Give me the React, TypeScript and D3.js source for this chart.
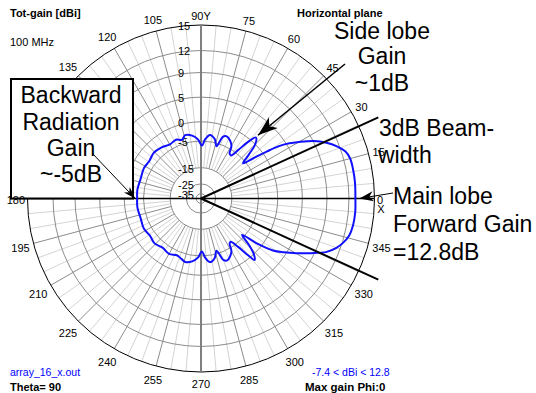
import React from 'react';
import * as d3 from 'd3';

const W = 536;
const H = 393;
const cx = 201;
const cy = 198.5;
const R = 173.5;

// ring values (dBi) shown on the vertical axis
const ringDb = [15, 12, 9, 5, 0, -5, -15, -25, -35];
const ringLabels = ['15', '12', '9', '5', '0', '-5', '-15', '-25', '-35'];

// angle tick labels (deg)
const angleTicks = [0, 15, 30, 45, 60, 75, 90, 105, 120, 135, 150, 165, 180, 195, 210, 225, 240, 255, 270, 285, 300, 315, 330, 345];

// pattern: upper half (0..180 deg) and lower half (180..360 deg)
const upperAngles = [0, 6, 11, 15, 18, 21, 24, 27, 30, 32, 34, 35.5, 37.5, 40, 42.5, 45, 48, 50.5, 52.5, 55, 57.5, 60, 64, 68, 70.5, 73.5, 77, 82, 86, 89, 93, 98, 104, 108, 113, 120, 128, 136, 144, 152, 162, 172];
const upperGain = [12.8, 12.85, 12.85, 12.8, 12.5, 11.7, 10.6, 9.1, 7.0, 5.5, 3.5, 1.0, -2.5, -5.8, -3.0, 0.0, 1.2, -1.0, -4.0, -6.5, -6.3, -4.0, -2.8, -2.3, -2.8, -5.9, -4.0, -3.1, -4.5, -6.4, -4.5, -3.3, -2.8, -3.8, -3.2, -3.6, -3.0, -2.7, -3.2, -3.0, -3.3, -3.1];
const lowerAngles = [180, 188, 198, 208, 216, 224, 232, 240, 247, 252, 256, 262, 267, 271, 274, 278, 283, 286.5, 290, 293, 296, 300, 302.5, 304.5, 307.5, 309.5, 311.1, 313.5, 316, 318.5, 321.2, 324.2, 327, 330.2, 333.5, 337, 340, 342.4, 346, 350, 355];
const lowerGain = [-3.2, -3.1, -3.3, -3.0, -3.4, -3.0, -3.6, -3.2, -3.8, -3.3, -2.8, -3.3, -4.5, -6.4, -4.5, -3.1, -4.0, -5.9, -2.8, -2.3, -2.8, -4.0, -6.3, -6.5, -4.0, -1.0, 1.1, 0.0, -2.5, -5.8, -1.2, 2.6, 4.5, 6.5, 8.5, 10.5, 11.5, 12.06, 12.6, 12.8, 12.85];

const maxGain = 12.8;
const backGain = -3.2;
const sideLobeAngle = 48;
const sideLobeGain = 1.2;
const beamHalfWidth = 24.6;

// 4nec2-like log radial scale
const K = 0.0498;
const DB_ZERO = -42.6;
const rLin = d3.scaleLinear().domain([Math.exp(K * DB_ZERO), Math.exp(K * 15)]).range([0, R]);
const rScale = (db: number) => rLin(Math.exp(K * db));

const toRad = (deg: number) => (deg * Math.PI) / 180;
const polar = (deg: number, r: number): [number, number] => [cx + r * Math.cos(toRad(deg)), cy - r * Math.sin(toRad(deg))];

type P = { a: number; g: number };
const pattern: P[] = [
  ...upperAngles.map((a, i) => ({ a, g: upperGain[i] })),
  ...lowerAngles.map((a, i) => ({ a, g: lowerGain[i] })),
];

const lineGen = d3
  .lineRadial<P>()
  .angle((d) => toRad(90 - d.a))
  .radius((d) => rScale(d.g))
  .curve(d3.curveCatmullRomClosed.alpha(0.5));

function arrowHead(x1: number, y1: number, x2: number, y2: number, len: number, half: number) {
  const dx = x2 - x1;
  const dy = y2 - y1;
  const L = Math.hypot(dx, dy);
  const ux = dx / L;
  const uy = dy / L;
  const nx = -uy;
  const ny = ux;
  const bx = x2 - ux * len;
  const by = y2 - uy * len;
  const mx = x2 - ux * len * 0.72;
  const my = y2 - uy * len * 0.72;
  return `M${x2},${y2}L${bx + nx * half},${by + ny * half}L${mx},${my}L${bx - nx * half},${by - ny * half}Z`;
}

const FONT = 'Arial, "Liberation Sans", sans-serif';

export default function App() {
  const spokes = d3.range(0, 360, 5);
  const rInner = rScale(-15);

  // arrows
  const sideTip = polar(sideLobeAngle, rScale(sideLobeGain) + 3);
  const sideStart: [number, number] = [345, 64];
  const mainTip = polar(0, rScale(maxGain) + 4);
  const mainStart: [number, number] = [393, 193];
  const backTip = polar(180, rScale(backGain) + 2);
  const backStart: [number, number] = [92, 153];

  const beamUp = polar(beamHalfWidth, 195);
  const beamDown = polar(-beamHalfWidth, 195);

  const angleLabel = (a: number) => {
    const txt = a === 90 ? '90Y' : String(a);
    const hw = txt.length * 3.05;
    const c = Math.cos(toRad(a));
    const s = Math.sin(toRad(a));
    const off = R + 2.5 + hw * Math.abs(c) + 8 * Math.abs(s);
    return { txt, x: cx + c * off, y: cy - s * off + 1.5 };
  };

  return (
    <svg width={W} height={H} style={{ position: 'absolute', left: 0, top: 0, background: '#fff' }} fontFamily={FONT}>
      <rect x={0} y={0} width={W} height={H} fill="#fff" />
      {/* spokes */}
      {spokes.map((a) => {
        if (a % 90 === 0) return null;
        const [x1, y1] = polar(a, rInner);
        const [x2, y2] = polar(a, R);
        const dark = a % 15 === 0;
        return <line key={a} x1={x1} y1={y1} x2={x2} y2={y2} stroke={dark ? '#8c8c8c' : '#d4d4d4'} strokeWidth={1} />;
      })}
      {/* rings */}
      {ringDb.map((db, i) => (
        <circle key={db} cx={cx} cy={cy} r={rScale(db)} fill="none" stroke={i === 0 ? '#000' : '#8c8c8c'} strokeWidth={1} />
      ))}
      {/* axes */}
      <line x1={cx} y1={cy - R} x2={cx} y2={cy + R} stroke="#808080" strokeWidth={2} />
      <line x1={10} y1={cy} x2={cx + R} y2={cy} stroke="#000" strokeWidth={1.5} />

      {/* ring labels */}
      {ringDb.map((db, i) => (
        <text key={'rl' + db} x={cx - 23} y={cy - rScale(db) + 1} dy="0.35em" fontSize={11} fill="#000">
          {ringLabels[i]}
        </text>
      ))}

      {/* pattern */}
      <path d={lineGen(pattern) || ''} transform={`translate(${cx},${cy})`} fill="none" stroke="#1010ff" strokeWidth={2} />

      {/* beam width lines */}
      <line x1={cx} y1={cy} x2={beamUp[0]} y2={beamUp[1]} stroke="#000" strokeWidth={2} />
      <line x1={cx} y1={cy} x2={beamDown[0]} y2={beamDown[1]} stroke="#000" strokeWidth={2} />

      {/* backward annotation box */}
      <rect x={11} y={79} width={122} height={cy - 79} fill="#fff" stroke="#000" strokeWidth={2} />
      <g fontSize={23} textAnchor="middle" fill="#000">
        <text x={71} y={103}>Backward</text>
        <text x={71} y={130}>Radiation</text>
        <text x={71} y={156}>Gain</text>
        <text x={71} y={182}>~-5dB</text>
      </g>

      {/* angle labels */}
      {angleTicks.map((a) => {
        if (a === 150 || a === 165) return null;
        const l = angleLabel(a);
        return (
          <text key={'al' + a} x={l.x} y={l.y} dy="0.35em" textAnchor="middle" fontSize={11} fill="#000">
            {l.txt}
          </text>
        );
      })}
      <text x={381} y={209} dy="0.35em" textAnchor="middle" fontSize={11} fill="#000">X</text>

      {/* arrows */}
      <line x1={sideStart[0]} y1={sideStart[1]} x2={sideTip[0]} y2={sideTip[1]} stroke="#000" strokeWidth={1.5} />
      <path d={arrowHead(sideStart[0], sideStart[1], sideTip[0], sideTip[1], 20, 7)} fill="#000" />
      <line x1={mainStart[0]} y1={mainStart[1]} x2={mainTip[0]} y2={mainTip[1]} stroke="#000" strokeWidth={1} />
      <path d={arrowHead(mainStart[0], mainStart[1], mainTip[0], mainTip[1], 14, 5)} fill="#000" />
      <line x1={backStart[0]} y1={backStart[1]} x2={backTip[0]} y2={backTip[1]} stroke="#000" strokeWidth={1} />
      <path d={arrowHead(backStart[0], backStart[1], backTip[0], backTip[1], 12, 4)} fill="#000" />

      {/* annotation texts */}
      <g fontSize={23} fill="#000">
        <text x={382} y={39} textAnchor="middle">Side lobe</text>
        <text x={382} y={64} textAnchor="middle">Gain</text>
        <text x={382} y={91} textAnchor="middle">~1dB</text>
        <text x={379} y={136}>3dB Beam-</text>
        <text x={378} y={163}>width</text>
        <text x={393} y={204}>Main lobe</text>
        <text x={393} y={232}>Forward Gain</text>
        <text x={393} y={260}>=12.8dB</text>
      </g>

      {/* header / footer */}
      <text x={10} y={17} fontSize={11} fontWeight="bold">Tot-gain [dBi]</text>
      <text x={10} y={46} fontSize={11}>100 MHz</text>
      <text x={297} y={17} fontSize={11} fontWeight="bold">Horizontal plane</text>
      <text x={10} y={376} fontSize={10.5} fill="#0000ff">array_16_x.out</text>
      <text x={10} y={391} fontSize={11} fontWeight="bold">Theta= 90</text>
      <text x={312} y={376} fontSize={10.5} fill="#0000ff">-7.4 &lt; dBi &lt; 12.8</text>
      <text x={305} y={391} fontSize={11.5} fontWeight="bold">Max gain Phi:0</text>
    </svg>
  );
}
